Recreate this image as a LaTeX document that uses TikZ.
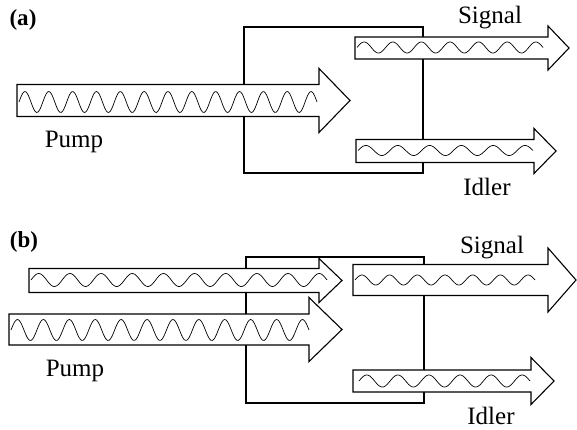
\documentclass[tikz,border=0pt]{standalone}
\usepackage{fontspec}
\setmainfont{Liberation Serif}
\usepackage{tikz}

\tikzset{
  beam/.style={draw, fill=white, line width=1.1pt, line join=miter},
  wavy/.style={line width=0.7pt},
  crystal/.style={line width=1.1pt},
  lbl/.style={font=\fontsize{25}{28}\selectfont, inner sep=0pt},
  tag/.style={font=\fontsize{23}{26}\selectfont\bfseries, inner sep=0pt}
}

% fat arrow: x start, shaft end, tip, centre y, half body, half head
\newcommand{\beam}[6]{%
  \path[beam] (#1,{#4-#5}) -- (#2,{#4-#5}) -- (#2,{#4-#6}) -- (#3,#4)
    -- (#2,{#4+#6}) -- (#2,{#4+#5}) -- (#1,{#4+#5}) -- cycle;}
% wave inside a beam: x from, x to, centre y, amplitude, number of crests
\newcommand{\wave}[5]{%
  \draw[wavy] plot[domain=#1:#2, samples=220, smooth]
    (\x,{#3-#4*sin(((\x-#1)/(#2-#1))*(#5-0.5)*360)});}

\begin{document}
\begin{tikzpicture}[x=1pt,y=-1pt]
\useasboundingbox (0,0) rectangle (577,430);

% (a) one pump beam
\node[tag] (tagA) at (23,20) {(a)};
\draw[crystal] (244,27) rectangle (423,173);
\beam{17}{319}{350}{100.5}{16}{32}
\wave{19}{317}{102}{10.5}{13}
\beam{355}{548}{569}{48}{11}{22}
\wave{357}{543}{47.5}{5.5}{7}
\beam{356}{534}{556}{151}{11.5}{22.5}
\wave{358}{533}{150.5}{5}{6}
\node[lbl, anchor=base] (pumpA) at (74,148) {Pump};
\node[lbl, anchor=base] (signalA) at (490,24) {Signal};
\node[lbl, anchor=base] (idlerA) at (487,196) {Idler};

% (b) pump plus seed beam
\node[tag] (tagB) at (24,242) {(b)};
\draw[crystal] (246,257) rectangle (424,403);
\beam{29}{319}{342}{280.5}{12}{22}
\wave{31}{327}{280}{6.5}{10}
\beam{9}{309}{342}{329.5}{15.5}{32}
\wave{11}{309}{330}{10.5}{12}
\beam{353}{548}{576}{280}{15.5}{32}
\wave{355}{535}{280}{5}{7}
\beam{353}{531}{554}{381}{11}{23.5}
\wave{359}{530}{381}{6}{6}
\node[lbl, anchor=base] (pumpB) at (75,376) {Pump};
\node[lbl, anchor=base] (signalB) at (492,253) {Signal};
\node[lbl, anchor=base] (idlerB) at (491,424) {Idler};
\end{tikzpicture}
\end{document}
